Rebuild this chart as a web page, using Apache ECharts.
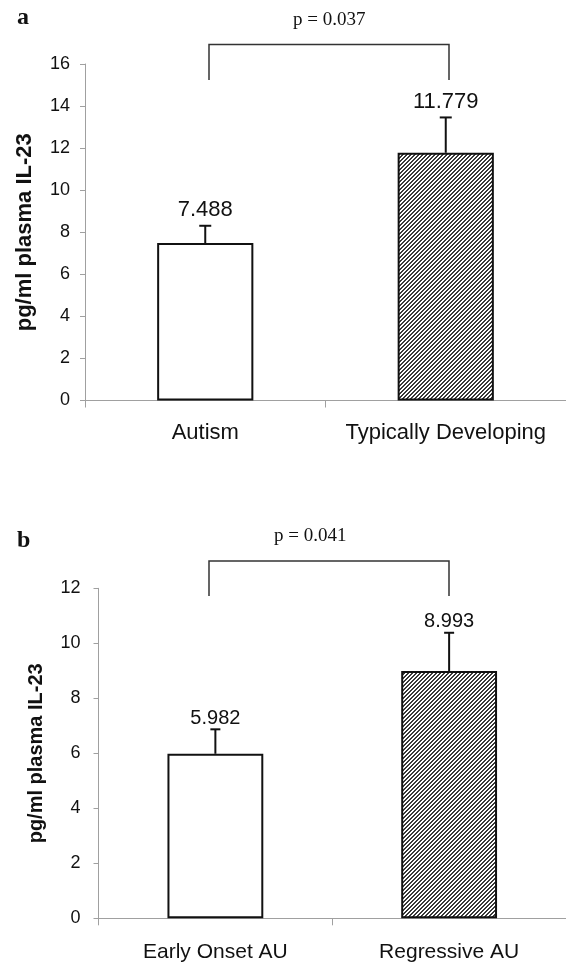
<!DOCTYPE html>
<html>
<head>
<meta charset="utf-8">
<script src="https://cdn.jsdelivr.net/npm/echarts@6/dist/echarts.min.js"></script>
<style>
  html, body { margin: 0; padding: 0; background: #fff; }
  #chart { width: 566px; height: 967px; }
</style>
</head>
<body>
<div id="chart"></div>
<script>
// panel a
const groupsA = ['Autism', 'Typically Developing'];
const meansA = [7.488, 11.779];
const semA = [0.82, 1.68];
const ticksA = { min: 0, max: 16, interval: 2 };
const pTextA = 'p = 0.037';

// panel b
const groupsB = ['Early Onset AU', 'Regressive AU'];
const meansB = [5.982, 8.993];
const semB = [0.89, 1.39];
const ticksB = { min: 0, max: 12, interval: 2 };
const pTextB = 'p = 0.041';

const yTitle = 'pg/ml plasma IL-23';

const SANS = '"Liberation Sans", Arial, sans-serif';
const SERIF = '"Liberation Serif", "Times New Roman", serif';
const AXIS_GRAY = '#a0a0a0';

// diagonal hatch tile (pixel stripes, "/" direction)
function hatchPattern() {
  const c = document.createElement('canvas');
  c.width = 4;
  c.height = 4;
  const ctx = c.getContext('2d');
  ctx.fillStyle = '#fff';
  ctx.fillRect(0, 0, 4, 4);
  ctx.fillStyle = '#383838';
  for (let x = 0; x < 4; x++) {
    for (let y = 0; y < 4; y++) {
      if ((x + y) % 4 < 2) ctx.fillRect(x, y, 1, 1);
    }
  }
  return { image: c, repeat: 'repeat' };
}
const hatch = hatchPattern();

function barData(means) {
  return means.map((v, i) => ({
    value: v,
    itemStyle: { color: i === 0 ? '#fff' : hatch }
  }));
}

function errorRenderer(sems, capHalf, labelGap, fontSize) {
  return function (params, api) {
    const idx = api.value(0);
    const v = api.value(1);
    const s = sems[params.dataIndex];
    const base = api.coord([idx, v]);
    const top = api.coord([idx, v + s]);
    return {
      type: 'group',
      children: [
        { type: 'line', shape: { x1: base[0], y1: base[1], x2: top[0], y2: top[1] },
          style: { stroke: '#111', lineWidth: 2 } },
        { type: 'line', shape: { x1: top[0] - capHalf, y1: top[1], x2: top[0] + capHalf, y2: top[1] },
          style: { stroke: '#111', lineWidth: 2 } },
        { type: 'text', x: top[0], y: top[1] - labelGap,
          style: { text: v.toFixed(3), fontFamily: SANS, fontSize: fontSize, fill: '#111',
                   align: 'center', verticalAlign: 'middle' } }
      ]
    };
  };
}

function xAxisFor(gridIndex, cats, fontSize, margin) {
  return {
    type: 'category', gridIndex, data: cats,
    axisLine: { lineStyle: { color: AXIS_GRAY, width: 1 } },
    axisTick: { show: true, length: 7, interval: 0, lineStyle: { color: AXIS_GRAY } },
    axisLabel: { color: '#111', fontFamily: SANS, fontSize, margin, interval: 0 }
  };
}

function yAxisFor(gridIndex, ticks, nameSize, nameGap, margin) {
  return {
    type: 'value', gridIndex, min: ticks.min, max: ticks.max, interval: ticks.interval,
    name: yTitle, nameLocation: 'middle', nameRotate: 90, nameGap,
    nameTextStyle: { fontFamily: SANS, fontWeight: 'bold', fontSize: nameSize, color: '#111' },
    axisLine: { show: true, lineStyle: { color: AXIS_GRAY, width: 1 } },
    axisTick: { show: true, length: 5, lineStyle: { color: AXIS_GRAY } },
    axisLabel: { color: '#111', fontFamily: SANS, fontSize: 18, margin },
    splitLine: { show: false }
  };
}

function bracket(x1, x2, yTop, yBottom) {
  return {
    type: 'polyline',
    shape: { points: [[x1, yBottom], [x1, yTop], [x2, yTop], [x2, yBottom]] },
    style: { stroke: '#333', lineWidth: 1.5, fill: null }
  };
}

function label(text, x, y, size, bold) {
  return {
    type: 'text', x, y,
    style: { text, fontFamily: SERIF, fontSize: size, fontWeight: bold ? 'bold' : 'normal',
             fill: '#111', align: 'left', verticalAlign: 'middle' }
  };
}

const chart = echarts.init(document.getElementById('chart'), null, { renderer: 'canvas' });

chart.setOption({
  backgroundColor: '#fff',
  animation: false,
  grid: [
    { left: 85, top: 64, width: 494, height: 336.5 },
    { left: 98.5, top: 588.3, width: 479.5, height: 330 }
  ],
  xAxis: [
    xAxisFor(0, groupsA, 22, 21),
    xAxisFor(1, groupsB, 21, 23)
  ],
  yAxis: [
    yAxisFor(0, ticksA, 22, 49, 15),
    yAxisFor(1, ticksB, 20, 52, 18)
  ],
  series: [
    { type: 'bar', xAxisIndex: 0, yAxisIndex: 0, data: barData(meansA), barWidth: '40%',
      itemStyle: { borderColor: '#111', borderWidth: 2 } },
    { type: 'custom', xAxisIndex: 0, yAxisIndex: 0, z: 5,
      data: meansA.map((v, i) => [i, v]), renderItem: errorRenderer(semA, 6, 16, 22) },
    { type: 'bar', xAxisIndex: 1, yAxisIndex: 1, data: barData(meansB), barWidth: '41%',
      itemStyle: { borderColor: '#111', borderWidth: 2 } },
    { type: 'custom', xAxisIndex: 1, yAxisIndex: 1, z: 5,
      data: meansB.map((v, i) => [i, v]), renderItem: errorRenderer(semB, 5, 11, 20) }
  ],
  graphic: [
    label('a', 17, 17.5, 24, true),
    label(pTextA, 293, 20, 19, false),
    bracket(209, 449, 44.5, 80),
    label('b', 17, 541, 24, true),
    label(pTextB, 274, 536, 19, false),
    bracket(209, 449, 561, 596)
  ]
});
</script>
</body>
</html>
